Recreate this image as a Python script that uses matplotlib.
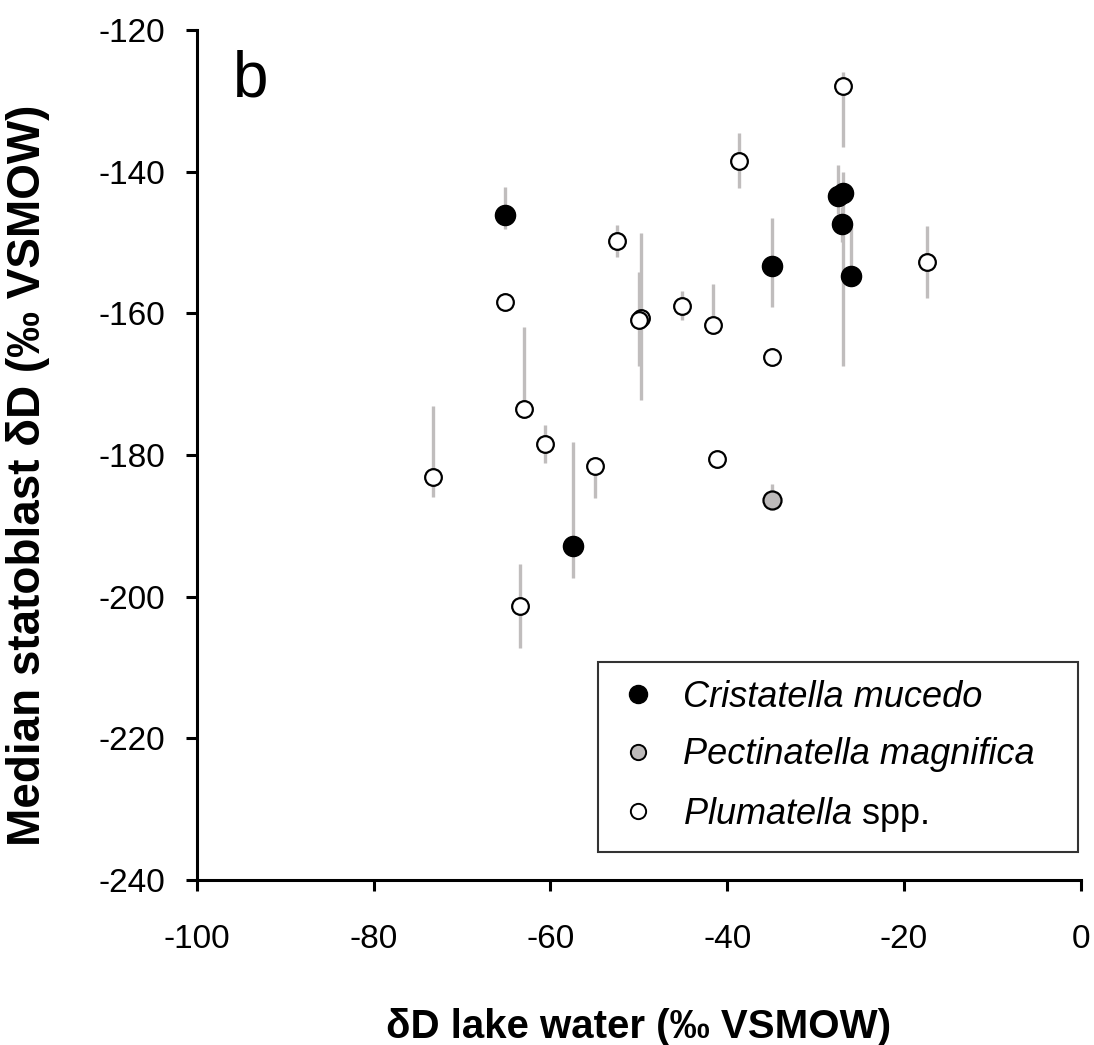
import matplotlib
matplotlib.use('Agg')
import matplotlib.pyplot as plt
from matplotlib.lines import Line2D

plt.rcParams['font.family'] = ['Liberation Sans', 'DejaVu Sans']
plt.rcParams['axes.unicode_minus'] = False
plt.rcParams['mathtext.fontset'] = 'custom'
plt.rcParams['mathtext.rm'] = 'Liberation Sans'
plt.rcParams['mathtext.it'] = 'Liberation Sans:italic'

# Cristatella mucedo (noir)
cm_x = [-65.1, -27.4, -26.85, -27.0, -26.0, -34.9, -57.4]
cm_y = [-146.1, -143.4, -143.0, -147.4, -154.7, -153.3, -192.8]
cm_hi = [-142.2, -139.1, -140.1, -145.0, -147.8, -146.5, -178.1]
cm_lo = [-148.1, -146.0, -167.5, -150.0, -155.0, -159.1, -197.4]

# Pectinatella magnifica (gris)
pm_x = [-34.9]
pm_y = [-186.4]
pm_hi = [-184.1]
pm_lo = [-187.0]

# Plumatella spp. (blanc)
pl_x = [-26.85, -38.65, -52.5, -65.1, -49.8, -50.0, -45.1, -41.6,
        -17.4, -34.9, -63.0, -60.6, -73.25, -54.9, -63.4, -41.1]
pl_y = [-127.9, -138.5, -149.8, -158.4, -160.7, -161.0, -158.9, -161.7,
        -152.8, -166.2, -173.5, -178.5, -183.1, -181.5, -201.3, -180.6]
pl_hi = [-125.9, -134.6, -147.5, -158.4, -148.7, -154.1, -156.8, -155.8,
         -147.7, -166.2, -162.0, -175.8, -173.1, -181.5, -195.4, -180.6]
pl_lo = [-136.5, -142.3, -152.0, -158.4, -172.2, -167.5, -160.9, -161.7,
         -157.9, -166.2, -173.5, -181.1, -185.9, -186.1, -207.2, -180.6]

noms = ['Cristatella mucedo', 'Pectinatella magnifica', r'$\mathit{Plumatella}$ spp.']

bar_color = '#c0bdbd'
gris = '#bdbaba'

fig = plt.figure(figsize=(10.94, 10.45), dpi=100)
ax = fig.add_axes([0.1801, 0.1579, 0.8076, 0.8134])

# barres d'erreur (min-max)
ax.vlines(pl_x, pl_lo, pl_hi, color=bar_color, linewidth=2.4, zorder=1)
ax.vlines(cm_x, cm_lo, cm_hi, color=bar_color, linewidth=2.4, zorder=1)
ax.vlines(pm_x, pm_lo, pm_hi, color=bar_color, linewidth=2.4, zorder=1)

# points
ax.plot(pl_x, pl_y, 'o', ms=12, mfc='white', mec='black', mew=1.6, zorder=3)
ax.plot(pm_x, pm_y, 'o', ms=13, mfc=gris, mec='black', mew=1.6, zorder=3)
ax.plot(cm_x, cm_y, 'o', ms=14.5, mfc='black', mec='black', mew=1, zorder=4)

ax.set_xlim(-100, 0)
ax.set_ylim(-240, -120)
ax.set_xticks([-100, -80, -60, -40, -20, 0])
ax.set_yticks([-240, -220, -200, -180, -160, -140, -120])

for s in ['top', 'right']:
    ax.spines[s].set_visible(False)
for s in ['left', 'bottom']:
    ax.spines[s].set_linewidth(2.2)
ax.tick_params(axis='both', direction='out', length=8, width=2.2, labelsize=24)
ax.tick_params(axis='x', pad=24)
ax.tick_params(axis='y', pad=15)

ax.set_xlabel('δD lake water (‰ VSMOW)', fontsize=29, fontweight='bold')
ax.set_ylabel('Median statoblast δD (‰ VSMOW)', fontsize=33, fontweight='bold')
ax.xaxis.set_label_coords(0.5, -0.151)
ax.yaxis.set_label_coords(-0.166, 0.476)

ax.text(0.041, 0.922, 'b', transform=ax.transAxes, fontsize=46, va='baseline')

handles = [
    Line2D([], [], ls='none', marker='o', ms=13, mfc='black', mec='black'),
    Line2D([], [], ls='none', marker='o', ms=11, mfc=gris, mec='black', mew=1.4),
    Line2D([], [], ls='none', marker='o', ms=11, mfc='white', mec='black', mew=1.4),
]
leg = ax.legend(handles, noms, loc='lower left', mode='expand',
                bbox_to_anchor=(0.4539, 0.033, 0.5433, 0.22),
                borderaxespad=0, fontsize=26, frameon=True, fancybox=False,
                edgecolor='black', handletextpad=0.66, labelspacing=0.62,
                borderpad=0.5, handlelength=1.2)
leg.get_frame().set_linewidth(1.5)
texts = leg.get_texts()
texts[0].set_fontstyle('italic')
texts[1].set_fontstyle('italic')

fig.savefig('out.png', dpi=100)
